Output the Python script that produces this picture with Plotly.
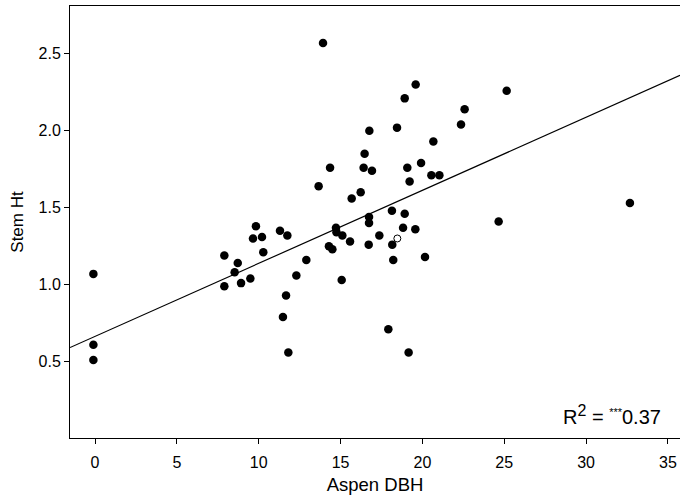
import plotly.graph_objects as go

dbh = [-0.1, -0.1, -0.1, 13.93, 14.36, 19.59, 18.92, 22.58, 22.36, 16.76, 18.45, 20.67,
       16.47, 16.41, 16.92, 19.08, 19.92, 20.55, 21.04, 19.22, 25.15, 32.68, 24.66, 13.66,
       9.83, 11.30, 11.75, 9.65, 10.20, 10.28, 7.90, 8.72, 8.53, 9.49, 7.90, 8.92, 12.91,
       12.30, 11.67, 11.48, 11.81, 14.29, 14.50, 15.68, 16.23, 18.14, 18.92, 16.74, 16.74,
       14.72, 14.75, 18.82, 19.57, 15.11, 17.37, 15.58, 16.72, 18.16, 18.22, 20.16, 15.07,
       17.92, 19.16]
stem_ht = [1.07, 0.61, 0.51, 2.57, 1.76, 2.30, 2.21, 2.14, 2.04, 2.00, 2.02, 1.93,
           1.85, 1.76, 1.74, 1.76, 1.79, 1.71, 1.71, 1.67, 2.26, 1.53, 1.41, 1.64,
           1.38, 1.35, 1.32, 1.30, 1.31, 1.21, 1.19, 1.14, 1.08, 1.04, 0.99, 1.01, 1.16,
           1.06, 0.93, 0.79, 0.56, 1.25, 1.23, 1.56, 1.60, 1.48, 1.46, 1.44, 1.40,
           1.37, 1.34, 1.37, 1.36, 1.32, 1.32, 1.28, 1.26, 1.26, 1.16, 1.18, 1.03,
           0.71, 0.56]
open_dbh = [18.47]
open_ht = [1.30]

fit_intercept = 0.664
fit_slope = 0.04744

x_range = [-1.53, 35.74]
y_range = [0.004, 2.81]
x_ticks = [0, 5, 10, 15, 20, 25, 30, 35]
y_ticks = [0.5, 1.0, 1.5, 2.0, 2.5]

font = "Liberation Sans, Arial, sans-serif"

fig = go.Figure()
fig.add_trace(go.Scatter(
    x=x_range, y=[fit_intercept + fit_slope * v for v in x_range],
    mode="lines", line=dict(color="black", width=1.2), showlegend=False, hoverinfo="skip"))
fig.add_trace(go.Scatter(
    x=dbh, y=stem_ht, mode="markers",
    marker=dict(color="black", size=8.5, line=dict(width=0)), showlegend=False))
fig.add_trace(go.Scatter(
    x=open_dbh, y=open_ht, mode="markers",
    marker=dict(color="white", size=7, line=dict(color="black", width=1)), showlegend=False))

fig.update_layout(
    width=680, height=504,
    margin=dict(l=70, r=0, t=6, b=66),
    plot_bgcolor="white", paper_bgcolor="white",
    font=dict(family=font, size=16, color="black"),
    xaxis=dict(range=x_range, tickvals=x_ticks, ticktext=[str(t) for t in x_ticks],
               showgrid=False, zeroline=False, showline=True, linecolor="black", linewidth=1,
               mirror=True, ticks="outside", ticklen=5, tickcolor="black",
               tickfont=dict(size=16), ticklabelstandoff=5,
               title=dict(text="Aspen DBH", standoff=7, font=dict(size=18.5))),
    yaxis=dict(range=y_range, tickvals=y_ticks, ticktext=["0.5", "1.0", "1.5", "2.0", "2.5"],
               showgrid=False, zeroline=False, showline=True, linecolor="black", linewidth=1,
               ticks="outside", ticklen=5, tickcolor="black",
               tickfont=dict(size=16),
               title=dict(text="Stem Ht", standoff=10, font=dict(size=17))),
    annotations=[dict(text="R<sup><span style='font-size:16px;fill:black'>2</span></sup> = "
                           "<sup><span style='font-size:11px;fill:black'>***</span></sup>0.37",
                      x=(663 - 70) / 610, y=(438 - 415) / 432,
                      xref="paper", yref="paper", xanchor="right", yanchor="middle",
                      showarrow=False, font=dict(size=20, color="black"))],
)
fig.write_html("out.html")
